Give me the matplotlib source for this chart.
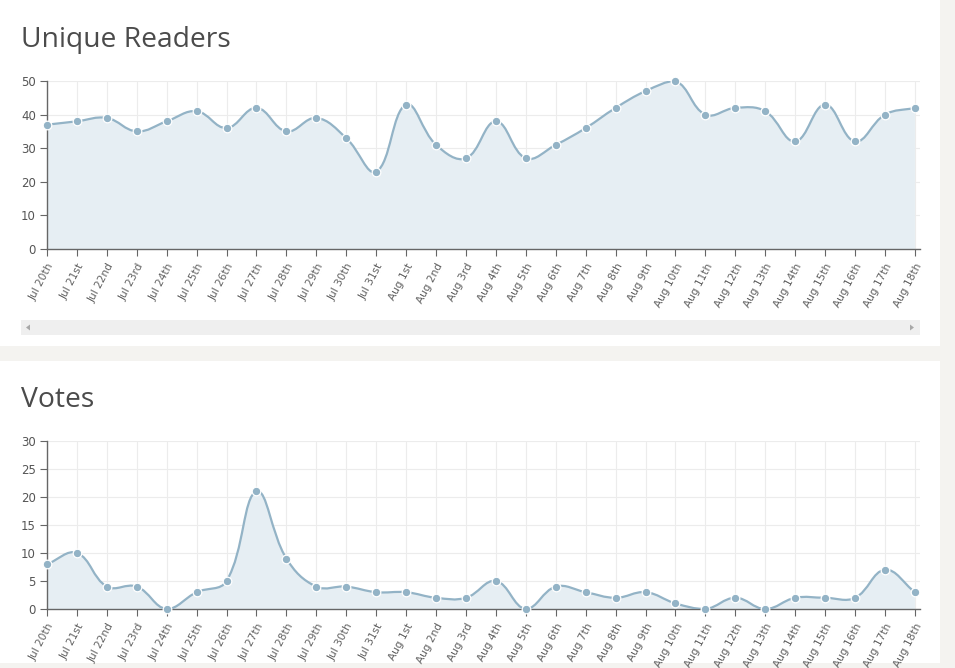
import matplotlib
matplotlib.use("Agg")
import matplotlib.pyplot as plt
import numpy as np
from matplotlib.patches import Rectangle, PathPatch, Polygon
from matplotlib.path import Path


W, H = 955, 668

days = [
    "Jul 20th", "Jul 21st", "Jul 22nd", "Jul 23rd", "Jul 24th", "Jul 25th",
    "Jul 26th", "Jul 27th", "Jul 28th", "Jul 29th", "Jul 30th", "Jul 31st",
    "Aug 1st", "Aug 2nd", "Aug 3rd", "Aug 4th", "Aug 5th", "Aug 6th",
    "Aug 7th", "Aug 8th", "Aug 9th", "Aug 10th", "Aug 11th", "Aug 12th",
    "Aug 13th", "Aug 14th", "Aug 15th", "Aug 16th", "Aug 17th", "Aug 18th",
]
readers = [37, 38, 39, 35, 38, 41, 36, 42, 35, 39, 33, 23, 43, 31, 27,
           38, 27, 31, 36, 42, 47, 50, 40, 42, 41, 32, 43, 32, 40, 42]
votes = [8, 10, 4, 4, 0, 3, 5, 21, 9, 4, 4, 3, 3, 2, 2,
         5, 0, 4, 3, 2, 3, 1, 0, 2, 0, 2, 2, 2, 7, 3]

LINE = "#93b3c6"
FILL = "#e6eef3"
BG = "#f4f3f0"


def px_box(x0, y0, x1, y1):
    # pixel box (top-left origin) -> figure fraction rect
    return [x0 / W, 1 - y1 / H, (x1 - x0) / W, (y1 - y0) / H]


def spline_path(xs, ys, sx, sy, ymin, ymax, tension=0.4):
    # chart.js style bezier through the points, computed in pixel space
    px = np.asarray(xs, float) * sx
    py = np.asarray(ys, float) * sy
    n = len(px)
    c_in, c_out = [], []
    for i in range(n):
        p0 = (px[max(i - 1, 0)], py[max(i - 1, 0)])
        p1 = (px[i], py[i])
        p2 = (px[min(i + 1, n - 1)], py[min(i + 1, n - 1)])
        d01 = np.hypot(p1[0] - p0[0], p1[1] - p0[1])
        d12 = np.hypot(p2[0] - p1[0], p2[1] - p1[1])
        tot = d01 + d12 if d01 + d12 else 1
        fa, fb = tension * d01 / tot, tension * d12 / tot
        dx, dy = p2[0] - p0[0], p2[1] - p0[1]
        a = (p1[0] - fa * dx, p1[1] - fa * dy)
        b = (p1[0] + fb * dx, p1[1] + fb * dy)
        c_in.append((a[0] / sx, min(max(a[1] / sy, ymin), ymax)))
        c_out.append((b[0] / sx, min(max(b[1] / sy, ymin), ymax)))
    verts = [(xs[0], ys[0])]
    codes = [Path.MOVETO]
    for i in range(n - 1):
        verts += [c_out[i], c_in[i + 1], (xs[i + 1], ys[i + 1])]
        codes += [Path.CURVE4] * 3
    return verts, codes


def draw_chart(fig, box, values, ymax, ystep, title, title_y):
    ax = fig.add_axes(px_box(*box))
    x = np.arange(len(values))
    verts, codes = spline_path(x, values, 30.0, 168.0 / ymax, 0, ymax)
    fill_verts = verts + [(x[-1], 0), (x[0], 0), (x[0], values[0])]
    fill_codes = codes + [Path.LINETO, Path.LINETO, Path.CLOSEPOLY]
    ax.add_patch(PathPatch(Path(fill_verts, fill_codes), facecolor=FILL,
                           edgecolor="none", zorder=1))
    ax.add_patch(PathPatch(Path(verts, codes), facecolor="none",
                           edgecolor=LINE, lw=1.6, zorder=3))
    ax.plot(x, values, "o", ms=6.2, color=LINE, mec="white", mew=0.9,
            zorder=4, clip_on=False)

    ax.set_xlim(0, len(values) - 1 + 0.17)
    ax.set_ylim(0, ymax)
    ax.set_xticks(x)
    ax.set_xticklabels(days, rotation=62, ha="right", va="top",
                       rotation_mode="anchor", fontsize=7.6, color="#606060",
                       family="DejaVu Sans")
    ax.set_yticks(np.arange(0, ymax + 1, ystep))
    ax.tick_params(axis="y", labelsize=8.5, labelcolor="#555555",
                   length=5, color="#666666", pad=3)
    ax.tick_params(axis="x", length=5, color="#666666", pad=4)
    ax.grid(True, color="#ececec", lw=0.8)
    ax.set_axisbelow(True)
    for side in ("top", "right"):
        ax.spines[side].set_visible(False)
    for side in ("left", "bottom"):
        ax.spines[side].set_color("#666666")
        ax.spines[side].set_linewidth(1.0)
    ax.set_facecolor("white")

    fig.text(21 / W, 1 - title_y / H, title, fontsize=20.3, color="#4b4b4b",
             family="Open Sans", va="center", ha="left")
    return ax


fig = plt.figure(figsize=(W / 100, H / 100), dpi=100)
fig.patch.set_facecolor(BG)

# white cards
fig.add_artist(Rectangle((0, 1 - 346 / H), 940 / W, 346 / H,
                         transform=fig.transFigure, facecolor="white",
                         edgecolor="none", zorder=0))
fig.add_artist(Rectangle((0, 1 - 663 / H), 940 / W, (663 - 361) / H,
                         transform=fig.transFigure, facecolor="white",
                         edgecolor="none", zorder=0))

draw_chart(fig, (47, 81, 920, 249), readers, 50, 10, "Unique Readers", 40)
draw_chart(fig, (47, 441, 920, 609), votes, 30, 5, "Votes", 400)

# horizontal scrollbar under the first chart
fig.add_artist(Rectangle((21 / W, 1 - 335 / H), (920 - 21) / W, 15 / H,
                         transform=fig.transFigure, facecolor="#efefef",
                         edgecolor="none"))
fig.add_artist(Polygon([(26 / W, 1 - 327.5 / H), (30 / W, 1 - 324.5 / H),
                        (30 / W, 1 - 330.5 / H)], closed=True,
                       transform=fig.transFigure, facecolor="#a8a8a8",
                       edgecolor="none"))
fig.add_artist(Polygon([(914 / W, 1 - 327.5 / H), (910 / W, 1 - 324.5 / H),
                        (910 / W, 1 - 330.5 / H)], closed=True,
                       transform=fig.transFigure, facecolor="#a8a8a8",
                       edgecolor="none"))

fig.savefig("out.png", dpi=100, facecolor=BG)
